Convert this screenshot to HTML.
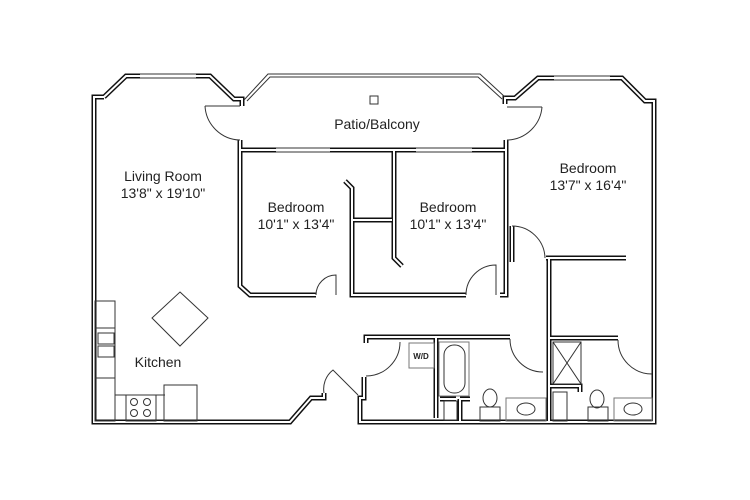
<!DOCTYPE html>
<html><head><style>
body{margin:0;background:#fff;width:750px;height:500px;overflow:hidden}
svg{display:block}
text{font-family:"Liberation Sans",sans-serif;font-size:14px;fill:#222;text-anchor:middle}
.w{fill:none;stroke:#111;stroke-width:5;stroke-linejoin:miter}
.wi{fill:none;stroke:#fff;stroke-width:2;stroke-linejoin:miter}
.t{fill:none;stroke:#333;stroke-width:1}
.g{fill:none;stroke:#777;stroke-width:1}
</style></head><body>
<svg width="750" height="500" viewBox="0 0 750 500">
<defs>
<g id="walls">
<path d="M104,97 L94,97 L94,422 L290,422 L311,398 L324,398 L324,393"/>
<path d="M104,97 L126,76 L140,76"/>
<path d="M196,76 L210,76 L234,99 L242,99 L242,106"/>
<path d="M505,104 L505,98 L515,98 L538,78 L554,78"/>
<path d="M610,78 L622,78 L645,101 L654,101 L654,422 L360,422 L360,398 L364,398 L364,377"/>
<path d="M240,140 L240,286 L250,295 L316,295"/>
<path d="M240,150 L276,150"/>
<path d="M330,150 L416,150"/>
<path d="M394,150 L394,258 L402,266"/>
<path d="M472,150 L506,150 L506,140"/>
<path d="M506,150 L506,295 L500,295"/>
<path d="M345,181 L352,188 L352,295 L466,295"/>
<path d="M352,220 L392,220"/>
<path d="M512,226 L512,262"/>
<path d="M546,258 L626,258"/>
<path d="M549,258 L549,422"/>
<path d="M549,338 L618,338"/>
<path d="M366,343 L366,337 L510,337"/>
<path d="M436,337 L436,418"/>
<path d="M440,399 L456,399"/>
<path d="M460,399 L470,399"/>
<path d="M460,399 L460,421"/>
<path d="M549,386 L580,386 L580,392"/>
</g>
</defs>
<g class="w"><use href="#walls"/></g>
<g class="wi"><use href="#walls"/></g>
<path class="t" d="M140,74 L196,74 M140,78 L196,78"/>
<path class="t" d="M554,76 L610,76 M554,80 L610,80"/>
<path class="t" d="M276,148 L330,148 M276,152 L330,152"/>
<path class="t" d="M416,148 L472,148 M416,152 L472,152"/>
<path class="t" d="M244,100 L268,74 L480,74 L505,97"/>
<path class="t" d="M247,101 L270,77 L478,77 L502,99"/>
<rect x="370" y="96" width="8" height="8" class="t"/>
<path class="t" d="M205,106 L240,106 M205,106 A36,36 0 0 0 240,140"/>
<path class="t" d="M542,107 L507,107 M542,107 A36,36 0 0 1 507,140"/>
<path class="t" d="M316,295 A20,20 0 0 1 336,275 L336,295"/>
<path class="t" d="M466,295 A30,30 0 0 1 496,265 L496,295"/>
<path class="t" d="M512,226 A33,33 0 0 1 545,258"/>
<path class="t" d="M618,340 A34,34 0 0 0 652,374"/>
<path class="t" d="M510,339 A33,33 0 0 0 543,372"/>
<path class="t" d="M400,342 A34,34 0 0 1 366,376"/>
<path class="t" d="M324,393 A24,24 0 0 1 333,370 L358,395"/>
<rect x="95" y="301" width="20" height="120" class="t"/>
<path class="t" d="M95,328 L115,328 M95,378 L115,378"/>
<rect x="98" y="333" width="16" height="11" class="t"/>
<rect x="98" y="346" width="16" height="11" class="t"/>
<path class="t" d="M115,395 L165,395 M126,395 L126,421"/>
<rect x="164" y="385" width="33" height="36" class="t"/>
<rect x="126" y="395" width="30" height="26" class="t"/>
<circle cx="134" cy="402" r="3.5" class="t"/><circle cx="147" cy="402" r="3.5" class="t"/>
<circle cx="134" cy="413" r="3.5" class="t"/><circle cx="147" cy="413" r="3.5" class="t"/>
<path d="M180,292 L208,318 L180,346 L152,318 Z" class="t"/>
<rect x="409" y="343" width="25" height="25" class="g"/>
<text x="421" y="359" style="font-size:8px;font-weight:bold">W/D</text>
<rect x="439" y="342" width="30" height="54" class="g"/>
<rect x="444" y="345" width="21" height="48" rx="10" class="t"/>
<ellipse cx="490" cy="398" rx="7" ry="9" class="t"/>
<rect x="480" y="407" width="20" height="14" class="t"/>
<rect x="506" y="398" width="40" height="23" class="g"/>
<ellipse cx="526" cy="409" rx="9" ry="6" class="t"/>
<rect x="553" y="342" width="28" height="42" class="t"/>
<path class="t" d="M553,342 L581,384 M581,342 L553,384"/>
<rect x="553" y="392" width="14" height="29" class="t"/>
<ellipse cx="597" cy="399" rx="7" ry="9" class="t"/>
<rect x="588" y="407" width="20" height="14" class="t"/>
<rect x="614" y="398" width="38" height="23" class="g"/>
<ellipse cx="633" cy="409" rx="9" ry="6" class="t"/>
<rect x="444" y="401" width="13" height="19" class="t"/>
<text x="377" y="129">Patio/Balcony</text>
<text x="163" y="181">Living Room</text>
<text x="163" y="198">13'8" x 19'10"</text>
<text x="296" y="212">Bedroom</text>
<text x="296" y="229">10'1" x 13'4"</text>
<text x="448" y="212">Bedroom</text>
<text x="448" y="229">10'1" x 13'4"</text>
<text x="588" y="173">Bedroom</text>
<text x="588" y="190">13'7" x 16'4"</text>
<text x="158" y="367">Kitchen</text>
</svg>
</body></html>
